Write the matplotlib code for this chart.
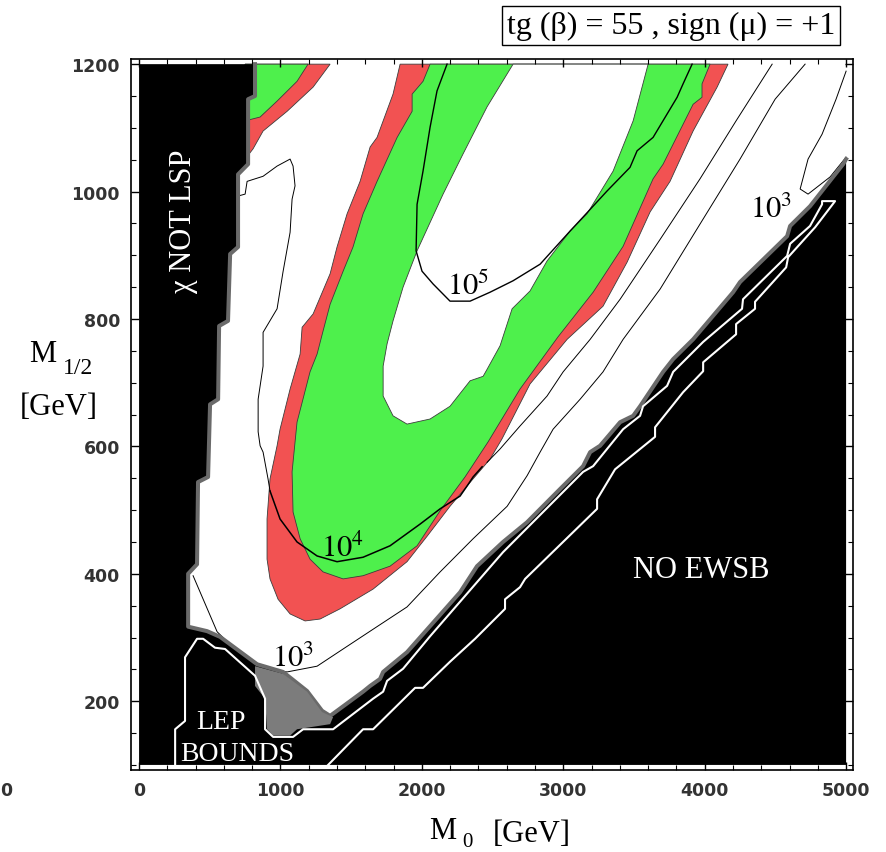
import numpy as np
import matplotlib.pyplot as plt
from matplotlib.ticker import MultipleLocator

plt.rcParams['mathtext.fontset'] = 'stix'
SERIF = ['Liberation Serif', 'DejaVu Serif']

# boundaries as (M0, M1/2) in GeV

# edge of the excluded (black) area: chi NOT LSP on the left, LEP at the bottom, NO EWSB lower right
excluded_edge = [(820, 1200), (820, 1150), (771, 1145), (771, 1043), (700, 1027), (700, 913),
                 (644, 902), (629, 797), (566, 789), (559, 674), (502, 666), (488, 552),
                 (417, 544), (410, 415), (347, 400), (347, 317), (481, 310), (573, 301),
                 (835, 258), (1018, 246), (1188, 216), (1294, 185), (1351, 177), (1584, 215),
                 (1634, 224), (1704, 235), (1726, 246), (1895, 277), (2270, 371), (2390, 412),
                 (2574, 450), (2744, 481), (2977, 533), (3140, 569), (3190, 591), (3260, 601),
                 (3402, 638), (3494, 648), (3543, 663), (3706, 717), (3777, 737), (3918, 768),
                 (4201, 842), (4250, 858), (4583, 930), (4604, 946), (4745, 977), (4908, 1023),
                 (4979, 1043), (5000, 1051)]
excluded_corners = [(5000, 100), (0, 100), (0, 1200)]

lep_gray = [(820, 255), (1018, 243), (1188, 215), (1294, 183), (1372, 175), (1351, 164),
            (1117, 156), (1068, 146), (948, 146), (905, 156), (891, 204), (820, 224)]

# white line: LEP bound outline, up the diagonal and back down
white_bound = [(255, 100), (255, 156), (325, 169), (325, 269), (410, 298), (453, 298),
               (537, 284), (608, 282), (820, 240), (891, 204), (891, 156), (948, 144),
               (1089, 144), (1160, 156), (1372, 156), (1655, 204), (1726, 215), (1754, 232),
               (1867, 251), (2058, 302), (2574, 434), (3140, 560), (3211, 569), (3423, 627),
               (3543, 648), (3564, 663), (3734, 695), (3777, 717), (3989, 764), (4264, 816),
               (4271, 831), (4583, 899), (4604, 918), (4745, 946), (4830, 980), (4830, 985),
               (4922, 985), (4781, 944), (4590, 897), (4576, 881), (4356, 827), (4356, 816),
               (4222, 792), (4222, 776), (3989, 732), (3989, 718), (3847, 685), (3649, 630),
               (3649, 615), (3366, 564), (3239, 517), (3239, 502), (2730, 392), (2694, 379),
               (2588, 360), (2588, 345), (2376, 298), (2199, 262), (2008, 221), (1952, 221),
               (1655, 156), (1584, 156), (1337, 100)]

# small patch in the upper left corner
red_patch = [(750, 1200), (1351, 1200), (1231, 1164), (1047, 1126), (877, 1095),
             (806, 1067), (750, 1051)]
green_patch = [(750, 1200), (1195, 1200), (1117, 1173), (976, 1142), (856, 1117), (750, 1111)]

# V shaped band
red_band = [(1846, 1200), (1796, 1153), (1683, 1085), (1634, 1070), (1563, 1016), (1471, 965),
            (1400, 913), (1351, 871), (1231, 808), (1153, 787), (1139, 745), (1068, 690),
            (997, 627), (976, 601), (926, 549), (905, 486), (905, 423), (926, 392), (983, 360),
            (1068, 337), (1174, 326), (1280, 329), (1421, 345), (1655, 376), (1895, 419),
            (2037, 459), (2199, 506), (2362, 549), (2482, 580), (2567, 612), (2765, 698),
            (3027, 768), (3281, 820), (3451, 889), (3614, 968), (3755, 1016), (3918, 1095),
            (4088, 1164), (4165, 1200)]
green_band = [(2058, 1200), (2008, 1173), (1931, 1153), (1931, 1126), (1825, 1085), (1683, 1016),
              (1584, 965), (1513, 913), (1443, 875), (1351, 823), (1301, 781), (1259, 745),
              (1209, 717), (1117, 638), (1082, 560), (1089, 497), (1139, 455), (1209, 423),
              (1301, 403), (1443, 392), (1584, 397), (1775, 412), (1966, 444), (2129, 499),
              (2305, 552), (2468, 607), (2694, 690), (2963, 772), (3211, 842), (3423, 914),
              (3635, 1020), (3706, 1043), (3918, 1137), (3981, 1148), (3981, 1169), (4038, 1200)]
inner_white = [(2645, 1200), (2461, 1133), (2291, 1059), (2150, 996), (1966, 907), (1867, 850),
               (1796, 797), (1754, 761), (1726, 726), (1726, 679), (1796, 648), (1895, 635),
               (2058, 643), (2199, 663), (2341, 703), (2433, 710), (2461, 721), (2553, 758),
               (2638, 816), (2765, 844), (2885, 891), (3048, 938), (3168, 965), (3352, 1032),
               (3494, 1111), (3600, 1200)]

# contour lines
c1e5 = [(2178, 1200), (2107, 1158), (2058, 1101), (2008, 1032), (1966, 980), (1959, 907),
        (2001, 875), (2079, 855), (2199, 828), (2341, 828), (2482, 842), (2645, 860),
        (2836, 886), (3048, 938), (3140, 960), (3310, 1001), (3472, 1038), (3522, 1064),
        (3635, 1085), (3805, 1148), (3847, 1169), (3911, 1200)]
c1e4_thin = [(700, 993), (750, 996), (764, 1016), (877, 1024), (976, 1040), (1068, 1051),
             (1089, 1040), (1103, 1009), (1082, 988), (1068, 936), (1018, 874), (976, 816),
             (877, 779), (877, 726), (842, 674), (842, 623), (856, 601), (877, 591),
             (912, 549), (926, 530)]
c1e4 = [(926, 530), (997, 486), (1117, 450), (1259, 428), (1400, 419), (1584, 426),
        (1775, 444), (1987, 478), (2129, 502), (2270, 522), (2320, 538), (2362, 552), (2426, 568)]
c1e3 = [(382, 397), (467, 353), (552, 309), (714, 274), (870, 251), (1047, 246), (1259, 255),
        (1443, 282), (1655, 313), (1895, 348), (2129, 403), (2362, 455), (2603, 506),
        (2744, 554), (2836, 591), (2928, 627), (3119, 674), (3281, 717), (3423, 768),
        (3685, 847), (3967, 949), (4250, 1051), (4498, 1145), (4710, 1200)]
c_mid = [(4477, 1200), (4222, 1111), (3967, 1020), (3685, 925), (3402, 831), (3190, 768),
         (2999, 717), (2885, 679), (2694, 632), (2553, 596), (2461, 575)]
c_hook = [(5000, 1189), (4929, 1145), (4830, 1090), (4731, 1051), (4675, 1004), (4731, 996),
          (4887, 1023), (5000, 1054)]

RED = '#f25252'
GREEN = '#4ef04c'
EDGE = '#3c3c3c'

fig = plt.figure(figsize=(8.87, 8.53), dpi=100)
ax = fig.add_axes([0.1477, 0.0961, 0.8140, 0.8335])


def fill(pts, **kw):
    a = np.array(pts)
    ax.fill(a[:, 0], a[:, 1], **kw)


def line(pts, **kw):
    a = np.array(pts)
    ax.plot(a[:, 0], a[:, 1], solid_joinstyle='round', **kw)


fill(red_patch, fc=RED, ec=EDGE, lw=0.6, zorder=1)
fill(green_patch, fc=GREEN, ec=EDGE, lw=0.6, zorder=1.1)
fill(red_band, fc=RED, ec=EDGE, lw=0.6, zorder=1)
fill(green_band, fc=GREEN, ec=EDGE, lw=0.6, zorder=1.1)
fill(inner_white, fc='white', ec=EDGE, lw=0.6, zorder=1.2)

line(c1e5, color='black', lw=1.0, zorder=3)
line(c1e4_thin, color='black', lw=0.7, zorder=3)
line(c1e4, color='black', lw=1.1, zorder=3)
line(c1e3, color='black', lw=0.7, zorder=3)
line(c_mid, color='black', lw=0.7, zorder=3)
line(c_hook, color='black', lw=0.7, zorder=3)

fill(excluded_edge + excluded_corners, fc='black', lw=0, zorder=5)
line(excluded_edge, color='#6a6a6a', lw=2.9, zorder=6)
fill(lep_gray, fc='#7c7c7c', lw=0, zorder=6)
line(white_bound, color='white', lw=1.5, zorder=7)

txt = dict(family=SERIF, zorder=8)
ax.text(311, 955, 'χ NOT LSP', color='white', fontsize=22, rotation=90,
        ha='center', va='center', **txt)
ax.text(3974, 406, 'NO EWSB', color='white', fontsize=22, ha='center', va='center', **txt)
ax.text(580, 168, 'LEP', color='white', fontsize=20, ha='center', va='center', **txt)
ax.text(693, 118, 'BOUNDS', color='white', fontsize=20, ha='center', va='center', **txt)
ax.text(1287, 428, r'$10^{4}$', fontsize=22, ha='left', va='baseline', **txt)
ax.text(941, 255, r'$10^{3}$', fontsize=22, ha='left', va='baseline', **txt)
ax.text(4321, 960, r'$10^{3}$', fontsize=22, ha='left', va='baseline', **txt)
ax.text(2178, 839, r'$10^{5}$', fontsize=22, ha='left', va='baseline', **txt)

ax.set_xlim(-57, 5049)
ax.set_ylim(92, 1208)
ax.xaxis.set_major_locator(MultipleLocator(1000))
ax.xaxis.set_minor_locator(MultipleLocator(200))
ax.yaxis.set_major_locator(MultipleLocator(200))
ax.yaxis.set_minor_locator(MultipleLocator(50))
ax.tick_params(which='both', direction='in', top=True, right=True)
ax.tick_params(which='major', length=6, width=1.0, pad=8, labelsize=12.5,
               labelcolor='#333333')
ax.tick_params(which='minor', length=3.5, width=0.8)
for lab in ax.get_xticklabels() + ax.get_yticklabels():
    lab.set_fontweight('bold')
for s in ax.spines.values():
    s.set_linewidth(1.2)

fig.text(0.7565, 0.9689, 'tg (β) = 55 , sign (μ) = +1', fontsize=23, family=SERIF,
         ha='center', va='center',
         bbox=dict(boxstyle='square,pad=0.16', fc='white', ec='black', lw=1.0))
fig.text(43 / 887, 1 - 355 / 853, 'M', fontsize=22, family=SERIF, ha='center', va='center')
fig.text(78 / 887, 1 - 369 / 853, '1/2', fontsize=17, family=SERIF, ha='center', va='center')
fig.text(59 / 887, 1 - 408 / 853, '[GeV]', fontsize=22, family=SERIF, ha='center', va='center')
fig.text(443 / 887, 1 - 832 / 853, 'M', fontsize=22, family=SERIF, ha='center', va='center')
fig.text(467 / 887, 1 - 843 / 853, '0', fontsize=15, family=SERIF, ha='center', va='center')
fig.text(532 / 887, 1 - 835 / 853, '[GeV]', fontsize=22, family=SERIF, ha='center', va='center')
fig.text(6 / 887, 1 - 791 / 853, '0', fontsize=12.5, fontweight='bold', color='#333333',
         ha='center', va='center')

fig.savefig('out.png', dpi=100, facecolor='white')
